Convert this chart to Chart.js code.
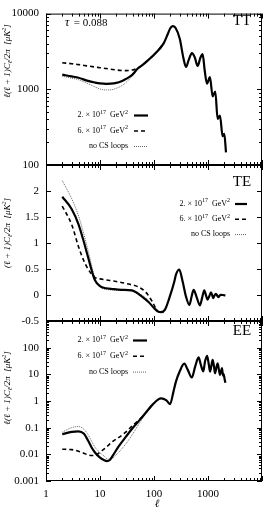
<!DOCTYPE html>
<html lang="en">
<head>
<meta charset="UTF-8">
<title>TT / TE / EE spectra</title>
<script src="https://cdn.jsdelivr.net/npm/chart.js@4"></script>
<style>
  html, body { margin: 0; padding: 0; background: #fff; }
  #wrap { position: relative; width: 269px; height: 513px; }
  #wrap canvas { position: absolute; left: 0; top: 0; }
</style>
</head>
<body>
<div id="wrap">
  <canvas id="tt" width="269" height="513"></canvas>
  <canvas id="te" width="269" height="513"></canvas>
  <canvas id="ee" width="269" height="513"></canvas>
</div>

<script>
// ---- data ----
const legendLabels = ['2. × 10^{17}  GeV^{2}', '6. × 10^{17}  GeV^{2}', 'no CS loops'];
const xTicks = [1, 10, 100, 1000];

// TT
const ttEll = [2,3,4,6,8,10,13,16,20,25,30,40,50,60,80,100,150,180,200,221,250,300,350,391,440,505,570,643,720,795,870,957,1087,1218,1365,1506,1667,1864,2003,2153];
const ttCS2 = [1560,1480,1420,1290,1230,1195,1180,1185,1215,1280,1365,1560,1880,2070,2470,2860,4010,5370,6400,6840,6500,4640,2600,1970,2450,3000,2630,2030,2590,2910,1760,1190,1445,808,935,407,451,240,257,147];
const ttEllLow = [2,3,4,6,8,10,13,16,20,25,30,40,50,60,80,100,150];
const ttCS6 = [2240,2180,2120,2030,1970,1930,1880,1840,1800,1775,1765,1800,1900,2070,2470,2860,4010];
const ttNoCS = [1490,1400,1340,1190,1080,1010,980,985,1030,1110,1220,1520,1880,2070,2470,2860,4010];
const ttTicks = [100, 1000, 10000];

// TE
const teEll = [2,3,4,5,6,8,10,13,17,25,39,60,80,100,120,135,160,192,238,255,294,339,391,451,500,541,620,709,780,853,920,980,1060,1135,1200,1253,1330,1406,1480,1550,1630,1714,1900,2100];
const teCS2 = [1.89,1.65,1.36,1.03,0.73,0.29,0.17,0.13,0.115,0.10,0.09,-0.03,-0.14,-0.25,-0.32,-0.33,-0.28,-0.06,0.26,0.39,0.49,0.26,-0.03,-0.19,-0.02,0.10,-0.05,-0.20,-0.05,0.09,-0.01,-0.09,-0.02,0.05,-0.01,-0.06,0.0,0.02,-0.01,-0.04,-0.02,0.005,0.0,-0.01];
const teEllLow = [2,3,4,5,6,8,10,15,20,34,50,71,92,120,135];
const teCS6 = [1.71,1.35,0.93,0.66,0.50,0.34,0.31,0.28,0.26,0.21,0.16,0.05,-0.12,-0.32,-0.33];
const teNoCS = [2.20,1.85,1.52,1.18,0.86,0.34,0.155,0.10,0.09,0.085,0.03,-0.06,-0.21,-0.32,-0.33];
const teTicks = [-0.5, 0, 0.5, 1, 1.5, 2];

// EE
const eeEll = [2,3,4,5,6,7,8,10,12,13.5,15,17,22,30,40,55,70,95,135,170,198,230,255,300,364,420,500,580,670,740,818,880,960,1030,1090,1160,1220,1290,1350,1430,1510,1590,1670,1740,1815,1900,1960,2020,2100];
const eeCS2 = [0.0565,0.07,0.073,0.06,0.033,0.018,0.012,0.0075,0.006,0.0056,0.006,0.0085,0.0195,0.045,0.095,0.2,0.36,0.75,1.25,1.05,0.76,2.3,5.3,13,25,15,7.6,20,43,22,13,30,49,25,12.6,22,35,20,11,18,26,15,9.5,13,17,9,10,7,4.8];
const eeEllLow = [2,3,4,5,6,7,8,10,12,14,17,22,30,40,55,70,95];
const eeCS6 = [0.0155,0.015,0.013,0.011,0.0095,0.009,0.009,0.012,0.016,0.021,0.03,0.042,0.068,0.12,0.21,0.36,0.75];
const eeNoCS = [0.068,0.1,0.11,0.088,0.055,0.031,0.019,0.0115,0.0085,0.0066,0.0072,0.0117,0.0245,0.057,0.16,0.34,0.75];
const eeTicks = [0.001, 0.01, 0.1, 1, 10, 100];

// ---- helpers ----
const FONT = '"Liberation Serif", "DejaVu Serif", serif';
Chart.defaults.font.family = FONT;
Chart.defaults.color = '#000';

function pts(ell, vals) {
  return ell.map((l, i) => ({ x: l, y: vals[i] }));
}

const styles = [
  { borderColor: '#000', borderWidth: 2.2, borderDash: [] },
  { borderColor: '#000', borderWidth: 1.6, borderDash: [4, 3] },
  { borderColor: '#555', borderWidth: 0.9, borderDash: [1, 1] }
];

function series(list) {
  return list.map((d, i) => Object.assign({
    data: pts(d[0], d[1]),
    pointRadius: 0,
    fill: false,
    cubicInterpolationMode: 'monotone'
  }, styles[i]));
}

// text with ^{sup} and _{sub}
function richParts(str) {
  const parts = [];
  const re = /([\^_])\{([^}]*)\}/g;
  let last = 0, m;
  while ((m = re.exec(str))) {
    if (m.index > last) parts.push({ t: str.slice(last, m.index), mode: 0 });
    parts.push({ t: m[2], mode: m[1] === '^' ? 1 : -1 });
    last = re.lastIndex;
  }
  if (last < str.length) parts.push({ t: str.slice(last), mode: 0 });
  return parts;
}

function drawRich(ctx, str, x, y, size, align, style) {
  const parts = richParts(str);
  const fontFor = p => (style || '') + ' ' + (p.mode ? Math.round(size * 0.7) : size) + 'px ' + FONT;
  let w = 0;
  parts.forEach(p => { ctx.font = fontFor(p); p.w = ctx.measureText(p.t).width; w += p.w; });
  let cx = align === 'right' ? x - w : align === 'center' ? x - w / 2 : x;
  ctx.textAlign = 'left';
  ctx.textBaseline = 'middle';
  parts.forEach(p => {
    ctx.font = fontFor(p);
    const dy = p.mode === 1 ? -size * 0.35 : p.mode === -1 ? size * 0.25 : 0;
    ctx.fillText(p.t, cx, y + dy);
    cx += p.w;
  });
}

function logMarks(min, max) {
  const out = [];
  for (let d = Math.floor(Math.log10(min)); d <= Math.ceil(Math.log10(max)); d++) {
    for (let k = 1; k <= 9; k++) {
      const v = k * Math.pow(10, d);
      if (v >= min * 0.999 && v <= max * 1.001) out.push({ v, major: k === 1 });
    }
  }
  return out;
}

// frame, inward ticks, legend, labels
const decor = {
  id: 'decor',
  afterDraw(chart, args, o) {
    const { ctx, chartArea: a, scales: { x, y } } = chart;
    ctx.save();
    ctx.strokeStyle = '#000';
    ctx.fillStyle = '#000';
    ctx.lineWidth = 1;
    ctx.setLineDash([]);
    ctx.strokeRect(a.left + 0.5, a.top + 0.5, a.right - a.left - 1, a.bottom - a.top - 1);

    const seg = (x1, y1, x2, y2) => { ctx.beginPath(); ctx.moveTo(x1, y1); ctx.lineTo(x2, y2); ctx.stroke(); };

    logMarks(x.min, x.max).forEach(t => {
      const px = Math.round(x.getPixelForValue(t.v)) + 0.5;
      const len = t.major ? 5 : 3;
      seg(px, a.top, px, a.top + len);
      seg(px, a.bottom, px, a.bottom - len);
    });
    const yMarks = y.type === 'logarithmic' ? logMarks(y.min, y.max) : o.linMarks.map(v => ({ v, major: true }));
    yMarks.forEach(t => {
      const py = Math.round(y.getPixelForValue(t.v)) + 0.5;
      const len = t.major ? 5 : 3;
      seg(a.left, py, a.left + len, py);
      seg(a.right, py, a.right - len, py);
    });

    // legend
    const L = o.legend;
    legendLabels.forEach((lab, i) => {
      const ly = L.y + i * L.dy;
      ctx.fillStyle = '#000';
      drawRich(ctx, lab, L.right, ly, 8, 'right');
      const s = styles[i];
      ctx.strokeStyle = s.borderColor;
      ctx.lineWidth = s.borderWidth;
      ctx.setLineDash(s.borderDash);
      seg(L.s0, ly + 0.5, L.s1, ly + 0.5);
    });
    ctx.setLineDash([]);
    ctx.fillStyle = '#000';

    // panel tag
    ctx.font = '15px ' + FONT;
    ctx.textAlign = 'center';
    ctx.textBaseline = 'middle';
    ctx.fillText(o.tag, 242, o.tagY);

    // y title (rotated)
    ctx.save();
    ctx.translate(8, o.titleY);
    ctx.rotate(-Math.PI / 2);
    drawRich(ctx, o.title, 0, 0, 9, 'center', 'italic');
    ctx.restore();

    if (o.extra) o.extra(ctx);
    ctx.restore();
  }
};

function makeChart(id, datasets, yScale, pad, showX, decorOpts) {
  return new Chart(document.getElementById(id), {
    type: 'line',
    data: { datasets },
    plugins: [decor],
    options: {
      responsive: false,
      animation: false,
      devicePixelRatio: 1,
      layout: { padding: { top: pad.top, bottom: pad.bottom, left: 0, right: 7 } },
      plugins: { legend: { display: false }, tooltip: { enabled: false }, decor: decorOpts },
      scales: {
        x: {
          type: 'logarithmic',
          min: 1, max: 10000,
          display: showX,
          grid: { display: false, drawTicks: false },
          border: { display: false },
          afterBuildTicks: s => { s.ticks = xTicks.map(v => ({ value: v })); },
          afterFit: s => { s.height = showX ? 32 : 0; },
          ticks: {
            autoSkip: false, maxRotation: 0, padding: 7,
            font: { size: 11 },
            callback: v => String(v)
          }
        },
        y: Object.assign({
          grid: { display: false, drawTicks: false },
          border: { display: false },
          afterFit: s => { s.width = 46; }
        }, yScale)
      }
    }
  });
}

// TT
makeChart('tt',
  series([[ttEll, ttCS2], [ttEllLow, ttCS6], [ttEllLow, ttNoCS]]),
  {
    type: 'logarithmic', min: 100, max: 10000,
    afterBuildTicks: s => { s.ticks = ttTicks.map(v => ({ value: v })); },
    ticks: { autoSkip: false, padding: 7, font: { size: 11 }, callback: v => String(v) }
  },
  { top: 7, bottom: 348 }, false,
  {
    tag: 'TT', tagY: 21,
    title: 'ℓ(ℓ + 1)C_{ℓ}/2π  [μK^{2}]', titleY: 61,
    legend: { right: 128, y: 115, dy: 15.5, s0: 134, s1: 148 },
    extra: ctx => {
      drawRich(ctx, 'τ', 65, 23, 12, 'left', 'italic');
      drawRich(ctx, ' = 0.088', 71, 23, 11, 'left');
    }
  });

// TE
makeChart('te',
  series([[teEll, teCS2], [teEllLow, teCS6], [teEllLow, teNoCS]]),
  {
    type: 'linear', min: -0.5, max: 2.5,
    afterBuildTicks: s => { s.ticks = teTicks.map(v => ({ value: v })); },
    ticks: { autoSkip: false, padding: 7, font: { size: 11 }, callback: v => String(v) }
  },
  { top: 165, bottom: 192 }, false,
  {
    tag: 'TE', tagY: 182,
    title: '(ℓ + 1)C_{ℓ}/2π  [μK^{2}]', titleY: 233,
    linMarks: teTicks.concat([2.5]),
    legend: { right: 230, y: 203.5, dy: 15.3, s0: 235, s1: 247 }
  });

// EE
makeChart('ee',
  series([[eeEll, eeCS2], [eeEllLow, eeCS6], [eeEllLow, eeNoCS]]),
  {
    type: 'logarithmic', min: 0.001, max: 1000,
    afterBuildTicks: s => { s.ticks = eeTicks.map(v => ({ value: v })); },
    ticks: { autoSkip: false, padding: 7, font: { size: 11 }, callback: v => String(v) }
  },
  { top: 321, bottom: 0 }, true,
  {
    tag: 'EE', tagY: 331,
    title: 'ℓ(ℓ + 1)C_{ℓ}/2π  [μK^{2}]', titleY: 388,
    legend: { right: 128, y: 340, dy: 15.8, s0: 133, s1: 147 },
    extra: ctx => { drawRich(ctx, 'ℓ', 157, 504, 11, 'center', 'italic'); }
  });
</script>
</body>
</html>
